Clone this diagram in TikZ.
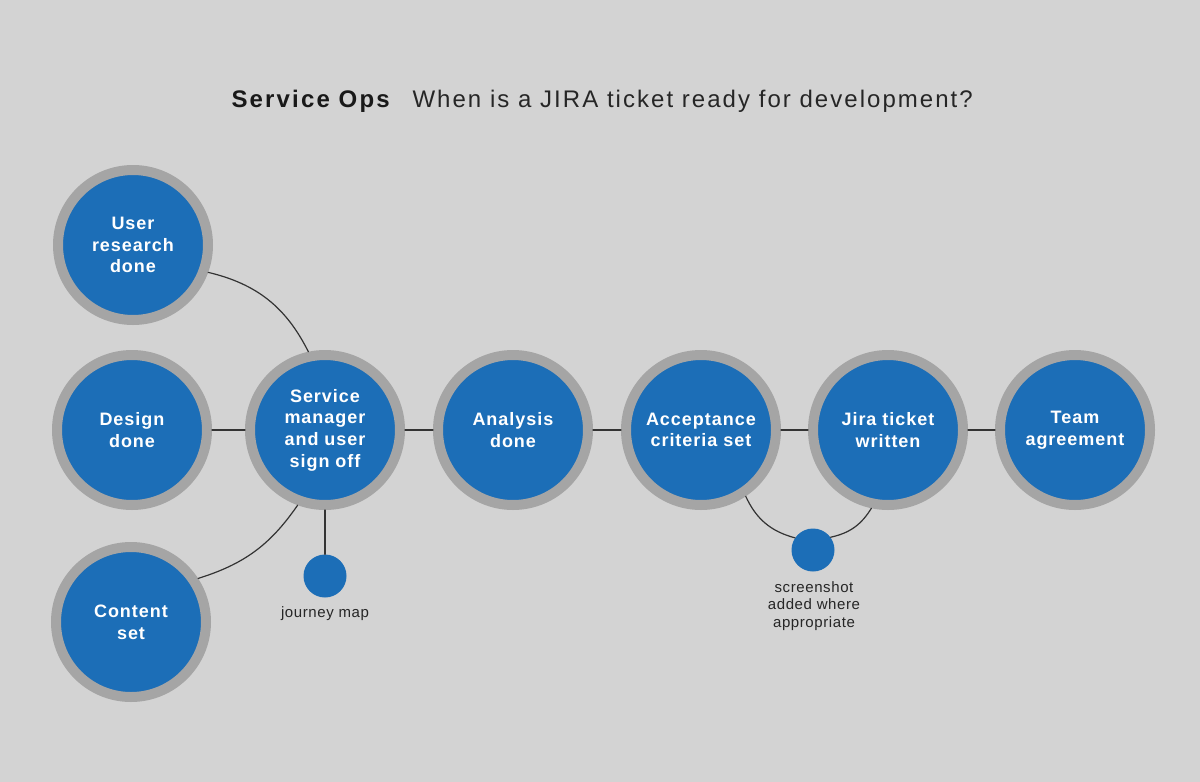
\documentclass[tikz,border=0pt]{standalone}
\usepackage{fontspec}
\setmainfont{Liberation Sans}
\newfontfamily\circlefont{Liberation Sans}[LetterSpace=5.5]
\newfontfamily\notefont{Liberation Sans}[LetterSpace=4]
\newfontfamily\headfont{Liberation Sans}[LetterSpace=9]
\newfontfamily\askfont{Liberation Sans}[LetterSpace=8.5]
\definecolor{bgGray}{HTML}{D3D3D3}
\definecolor{ringGray}{HTML}{A5A5A5}
\definecolor{stepBlue}{HTML}{1C6EB7}
\definecolor{lineDark}{HTML}{333333}
\tikzset{
  stage/.style={circle, draw=ringGray, line width=10pt, fill=stepBlue, minimum size=150pt,
    inner sep=0pt, align=center, text=white,
    font=\circlefont\bfseries\fontsize{18}{21.7}\selectfont},
  dot/.style={circle, fill=stepBlue, minimum size=43pt, inner sep=0pt},
  note/.style={align=center, text=black!85, font=\notefont\fontsize{15}{17.7}\selectfont},
  link/.style={draw=lineDark, line width=1.2pt}
}
\begin{document}
\begin{tikzpicture}[x=1pt, y=-1pt, line join=round, line cap=round]
				% canvas, y runs downwards
				\fill[bgGray] (0,0) rectangle (1200,782);
				\useasboundingbox (0,0) rectangle (1200,782);
				\node[anchor=base west, font=\headfont\bfseries\fontsize{24}{28}\selectfont, text=black!90] (title) at (228,107) {Service Ops};
				\node[anchor=base west, font=\askfont\fontsize{24}{28}\selectfont, text=black!85] (question) at (409,107) {When is a JIRA ticket ready for development?};
				\node[stage] (research) at (133,245) {User\\research\\done};
				\node[stage] (design) at (132,430) {Design\\done};
				\node[stage] (content) at (131,622) {Content\\set};
				\node[stage] (signoff) at (325,430) {Service\\manager\\and user\\sign off};
				\node[stage] (analysis) at (513,430) {Analysis\\done};
				\node[stage] (criteria) at (701,430) {Acceptance\\criteria set};
				\node[stage] (ticket) at (888,430) {Jira ticket\\written};
				\node[stage] (team) at (1075,430) {Team\\agreement};
				\node[dot] (journey) at (325,576) {};
				\node[dot] (shot) at (813,550) {};
				\node[note] (journeytxt) at (325,614) {journey map};
				\node[note] (shottxt) at (814,606) {screenshot\\added where\\appropriate};
				\draw[link] (research.-20) to[bend left=25] (signoff.102);
				\draw[link] (content.33) to[bend right=19] (signoff.250);
				\draw[link] (design) -- (signoff);
				\draw[link] (signoff) -- (analysis);
				\draw[link] (analysis) -- (criteria);
				\draw[link] (criteria) -- (ticket);
				\draw[link] (ticket) -- (team);
				\draw[link] (signoff.south) -- (journey.north);
				\draw[link] (criteria.-56) to[bend right=25] (shot.146);
				\draw[link] (ticket.-102) to[bend left=23] (shot.36);
			\end{tikzpicture}
\end{document}
